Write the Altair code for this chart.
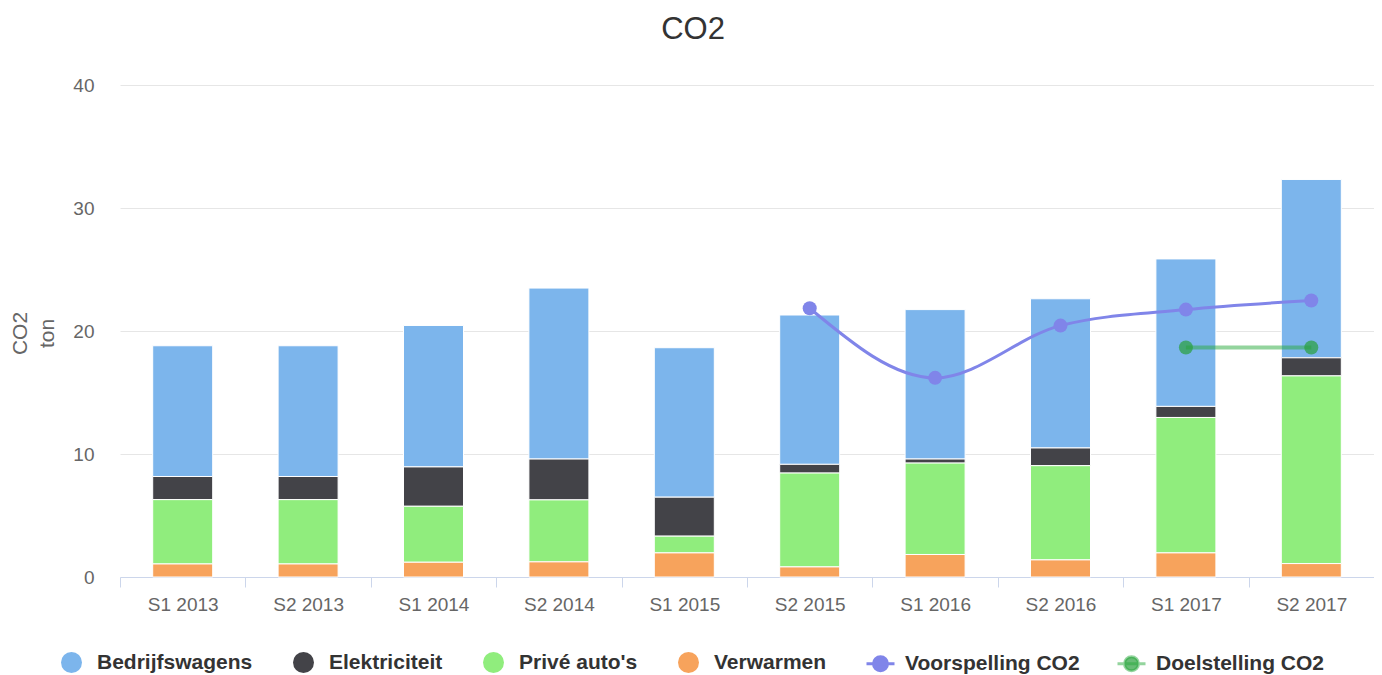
import altair as alt
import pandas as pd

periods = ["S1 2013", "S2 2013", "S1 2014", "S2 2014", "S1 2015",
           "S2 2015", "S1 2016", "S2 2016", "S1 2017", "S2 2017"]
bedrijfswagens = [10.63, 10.63, 11.50, 13.90, 12.15, 12.14, 12.15, 12.13, 11.99, 14.50]
elektriciteit = [1.88, 1.88, 3.20, 3.32, 3.17, 0.71, 0.33, 1.44, 0.90, 1.47]
prive = [5.23, 5.23, 4.55, 5.04, 1.36, 7.63, 7.43, 7.66, 11.01, 15.26]
verwarmen = [1.06, 1.06, 1.20, 1.23, 1.96, 0.82, 1.83, 1.39, 1.96, 1.09]

voorspelling_periods = ["S2 2015", "S1 2016", "S2 2016", "S1 2017", "S2 2017"]
voorspelling = [21.85, 16.19, 20.44, 21.74, 22.48]
doel_periods = ["S1 2017", "S2 2017"]
doelstelling = [18.66, 18.66]

bar_series = ["Bedrijfswagens", "Elektriciteit", "Privé auto's", "Verwarmen"]
bar_colors = ["#7cb5ec", "#434348", "#90ed7d", "#f7a35c"]
line_series = ["Voorspelling CO2", "Doelstelling CO2"]
line_stroke_colors = ["#8085e9", "rgba(40,170,60,0.5)"]
line_fill_colors = ["#8085e9", "rgba(40,160,60,0.7)"]

rows = []
stack_pos = {"Verwarmen": 0, "Privé auto's": 1, "Elektriciteit": 2, "Bedrijfswagens": 3}
for name, vals in zip(bar_series, [bedrijfswagens, elektriciteit, prive, verwarmen]):
    for p, v in zip(periods, vals):
        rows.append({"Periode": p, "Categorie": name, "Waarde": v, "Volgorde": stack_pos[name]})
dfb = pd.DataFrame(rows)

lrows = []
for p, v in zip(voorspelling_periods, voorspelling):
    lrows.append({"Periode": p, "Serie": "Voorspelling CO2", "Waarde": v, "Dikte": 3})
for p, v in zip(doel_periods, doelstelling):
    lrows.append({"Periode": p, "Serie": "Doelstelling CO2", "Waarde": v, "Dikte": 4})
dfl = pd.DataFrame(lrows)

FONT = "Liberation Sans"

xenc = alt.X("Periode:N", sort=periods,
             scale=alt.Scale(domain=periods, paddingInner=0, paddingOuter=0),
             axis=alt.Axis(title=None, labelAngle=0, tickBand="extent", tickSize=10,
                           tickColor="#ccd6eb", domainColor="#ccd6eb", labelFontSize=19,
                           labelColor="#666666", labelPadding=8, grid=False, labelFont=FONT))

yaxis = alt.Axis(title=["CO2", "ton"], values=[0, 10, 20, 30, 40], gridColor="#e6e6e6",
                 domain=False, ticks=False, tickSize=0, labelPadding=26, labelFontSize=19,
                 labelColor="#666666", labelFont=FONT, titleFont=FONT, titleFontSize=21,
                 titleFontWeight="normal", titleColor="#666666", titleX=-90, titleY=248,
                 titleAlign="center", titleBaseline="bottom", titleLineHeight=27)

bar_legend = alt.Legend(title=None, orient="none", legendX=-59, legendY=567,
                        direction="horizontal", columns=4, symbolType="circle",
                        symbolSize=441, symbolStrokeWidth=0, labelFontSize=21,
                        labelFontWeight="bold", labelColor="#333333", labelFont=FONT,
                        columnPadding=40, labelOffset=15, padding=0, labelLimit=0)

line_symbol = ("M-1,0L1,0M-0.5,0A0.5,0.5,0,1,0,0.5,0"
               "A0.5,0.5,0,1,0,-0.5,0Z")
line_legend = alt.Legend(title=None, orient="none", legendX=745, legendY=563,
                         direction="horizontal", columns=2, symbolType=line_symbol,
                         symbolSize=784, symbolStrokeWidth=3, labelFontSize=21,
                         labelFontWeight="bold", labelColor="#333333", labelFont=FONT,
                         columnPadding=31, labelOffset=9, padding=0, labelLimit=0)

bars = alt.Chart(dfb).mark_bar(size=60, stroke="white", strokeWidth=1).encode(
    x=xenc,
    y=alt.Y("Waarde:Q", stack="zero", scale=alt.Scale(domain=[0, 40], nice=False), axis=yaxis),
    color=alt.Color("Categorie:N", scale=alt.Scale(domain=bar_series, range=bar_colors),
                    legend=bar_legend),
    order=alt.Order("Volgorde:Q", sort="ascending"),
)

lines = alt.Chart(dfl).mark_line(interpolate="monotone").encode(
    x=alt.X("Periode:N", sort=periods),
    y=alt.Y("Waarde:Q"),
    stroke=alt.Stroke("Serie:N", scale=alt.Scale(domain=line_series, range=line_stroke_colors),
                      legend=line_legend),
    strokeWidth=alt.StrokeWidth("Dikte:Q", scale=None, legend=None),
)

points = alt.Chart(dfl).mark_point(filled=True, size=196, strokeWidth=0, opacity=1).encode(
    x=alt.X("Periode:N", sort=periods),
    y=alt.Y("Waarde:Q"),
    fill=alt.Fill("Serie:N", scale=alt.Scale(domain=line_series, range=line_fill_colors),
                  legend=line_legend),
    stroke=alt.Stroke("Serie:N", legend=line_legend),
)

chart = alt.layer(bars, lines, points).properties(
    width=1254, height=492,
    autosize="none",
    padding={"left": 112, "top": 77, "right": 0, "bottom": 98},
    title=alt.TitleParams("CO2", fontSize=31, fontWeight="normal", color="#333333",
                          font=FONT, anchor="middle", dx=-54, offset=6,
                          baseline="alphabetic"),
).configure_view(stroke=None)

chart.save("out.html", embed_options={"renderer": "svg", "actions": False})
